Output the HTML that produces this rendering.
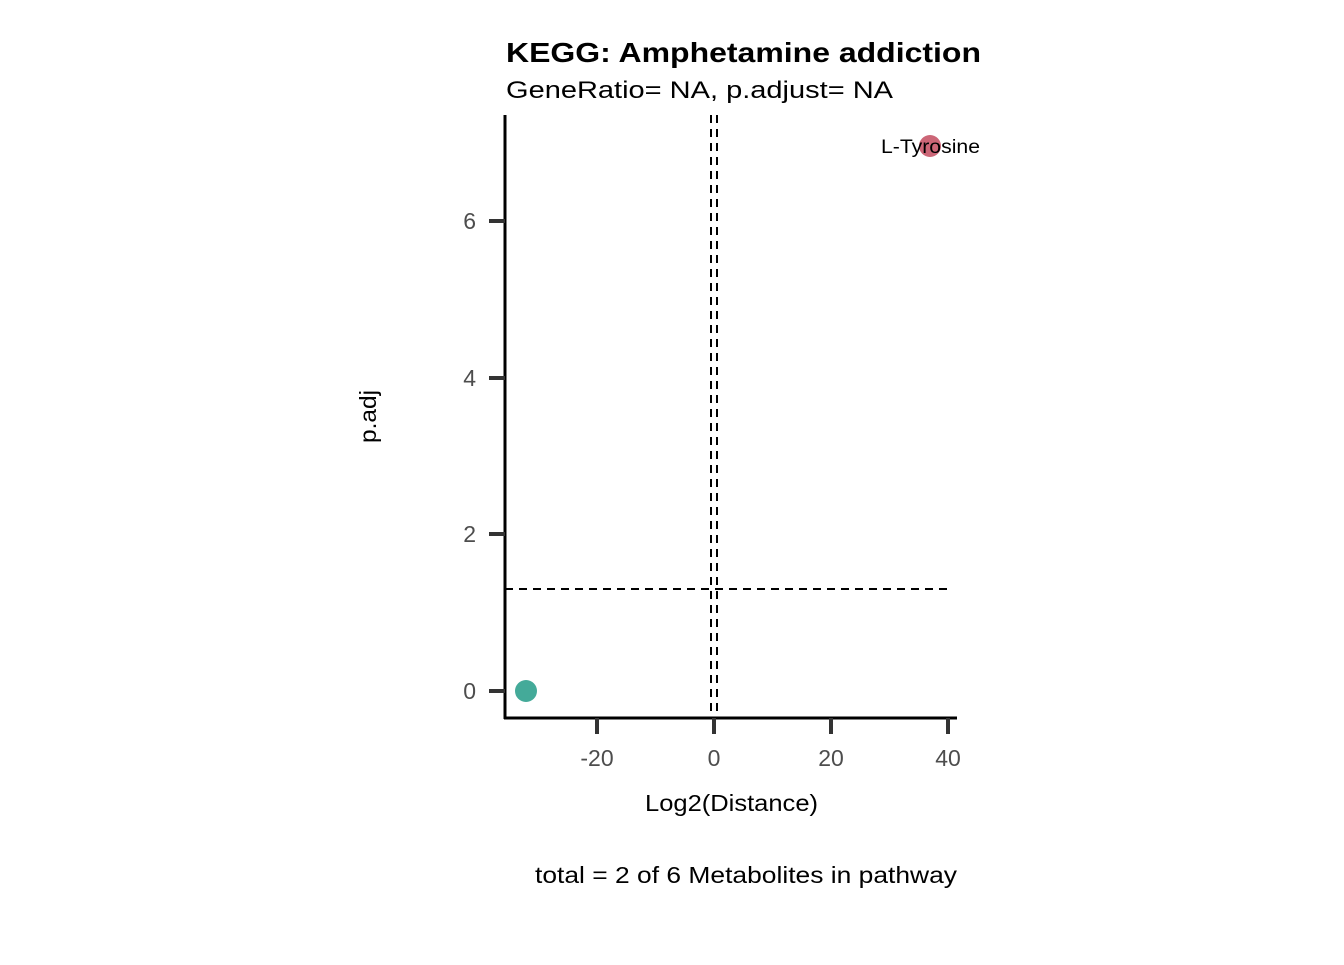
<!DOCTYPE html>
<html><head><meta charset="utf-8"><style>
html,body{margin:0;padding:0;background:#fff;}
</style></head><body>
<svg width="1344" height="960" xmlns="http://www.w3.org/2000/svg" font-family="Liberation Sans, Arial, sans-serif">
<rect width="1344" height="960" fill="#fff"/>
<text x="506" y="62" font-size="28" font-weight="bold" fill="#000" textLength="475" lengthAdjust="spacingAndGlyphs">KEGG: Amphetamine addiction</text>
<text x="506" y="98" font-size="24" fill="#000" textLength="387" lengthAdjust="spacingAndGlyphs">GeneRatio= NA, p.adjust= NA</text>
<line x1="711" y1="115" x2="711" y2="718" stroke="#000" stroke-width="2" stroke-dasharray="8,6"/>
<line x1="717" y1="115" x2="717" y2="718" stroke="#000" stroke-width="2" stroke-dasharray="8,6"/>
<line x1="505" y1="589" x2="950" y2="589" stroke="#000" stroke-width="2" stroke-dasharray="8,6"/>
<line x1="505" y1="115" x2="505" y2="719" stroke="#000" stroke-width="3"/>
<line x1="504" y1="718" x2="957" y2="718" stroke="#000" stroke-width="3"/>
<g stroke="#333" stroke-width="4">
<line x1="489" y1="221" x2="505" y2="221"/>
<line x1="489" y1="378" x2="505" y2="378"/>
<line x1="489" y1="534" x2="505" y2="534"/>
<line x1="489" y1="691" x2="505" y2="691"/>
<line x1="597" y1="718" x2="597" y2="734"/>
<line x1="714" y1="718" x2="714" y2="734"/>
<line x1="831" y1="718" x2="831" y2="734"/>
<line x1="948" y1="718" x2="948" y2="734"/>
</g>
<g font-size="23" fill="#4d4d4d" text-anchor="end">
<text x="476" y="229">6</text>
<text x="476" y="386">4</text>
<text x="476" y="542">2</text>
<text x="476" y="699">0</text>
</g>
<g font-size="23" fill="#4d4d4d" text-anchor="middle">
<text x="597" y="766">-20</text>
<text x="714" y="766">0</text>
<text x="831" y="766">20</text>
<text x="948" y="766">40</text>
</g>
<text x="645" y="811" font-size="23" fill="#000" textLength="173" lengthAdjust="spacingAndGlyphs">Log2(Distance)</text>
<text transform="translate(376,443) rotate(-90)" font-size="23" fill="#000" textLength="53" lengthAdjust="spacingAndGlyphs">p.adj</text>
<circle cx="526" cy="691" r="11" fill="#44AA99"/>
<circle cx="930" cy="146" r="11" fill="#CC6677"/>
<text x="881" y="153" font-size="19" fill="#000" textLength="99" lengthAdjust="spacingAndGlyphs">L-Tyrosine</text>
<text x="535" y="883" font-size="23" fill="#000" textLength="422" lengthAdjust="spacingAndGlyphs">total = 2 of 6 Metabolites in pathway</text>
</svg>
</body></html>
